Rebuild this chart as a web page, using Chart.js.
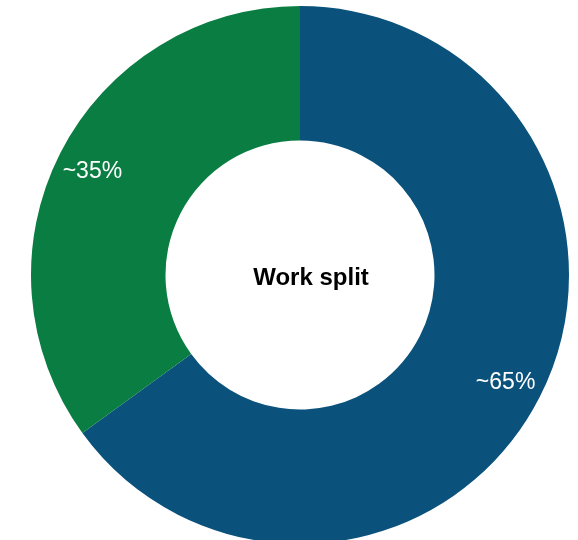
<!DOCTYPE html>
<html>
<head>
<meta charset="utf-8">
<script src="https://cdn.jsdelivr.net/npm/chart.js@4.4.0/dist/chart.umd.min.js"></script>
<style>
        html, body { margin: 0; padding: 0; background: #fff; overflow: hidden; }
        .wrap { position: absolute; left: 0; top: 0; width: 600px; height: 550px; }
</style>
</head>
<body>
<div class="wrap"><canvas id="myChart"></canvas></div>
<script>
// du lieu
const labels = ['Work A', 'Work B'];
const shares = [65, 35];
const shareText = ['~65%', '~35%'];
const backgroundColor = ['rgb(10, 82, 124)', 'rgb(10, 125, 66)'];
const centerTitle = 'Work split';

// ve chu tren tung lat
const sliceLabels = {
        id: 'sliceLabels',
        afterDatasetsDraw(chart) {
                const ctx = chart.ctx;
                const meta = chart.getDatasetMeta(0);
                ctx.save();
                ctx.fillStyle = '#fff';
                ctx.font = '23px "Liberation Sans", Arial, sans-serif';
                ctx.textAlign = 'center';
                ctx.textBaseline = 'middle';
                meta.data.forEach((arc, i) => {
                        const p = arc.getProps(['x', 'y', 'startAngle', 'endAngle', 'outerRadius'], true);
                        const mid = (p.startAngle + p.endAngle) / 2;
                        const r = p.outerRadius * 0.862;
                        ctx.fillText(shareText[i], p.x + Math.cos(mid) * r - 1, p.y + Math.sin(mid) * r + 2);
                });
                // chu o giua
                ctx.fillStyle = '#000';
                ctx.font = 'bold 24px "Liberation Sans", Arial, sans-serif';
                ctx.fillText(centerTitle, meta.data[0].x + 11, meta.data[0].y + 3);
                ctx.restore();
        }
};

const data = {
        labels: labels,
        datasets: [{
                data: shares,
                backgroundColor: backgroundColor,
                borderWidth: 0,
                hoverOffset: 0
        }]
};
const config = {
        type: 'doughnut',
        data: data,
        options: {
                responsive: true,
                maintainAspectRatio: false,
                animation: false,
                cutout: '50%',
                layout: { padding: 6 },
                plugins: {
                        legend: { display: false },
                        tooltip: { enabled: false }
                }
        },
        plugins: [sliceLabels]
};
const myChart = new Chart(document.getElementById('myChart'), config);
</script>
</body>
</html>
